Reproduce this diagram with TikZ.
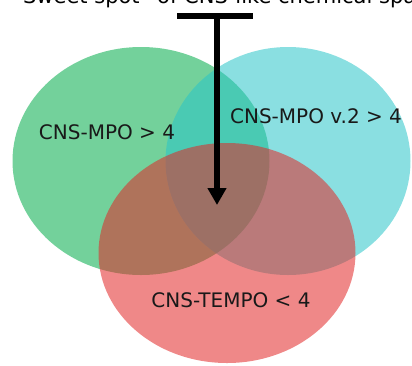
\documentclass[tikz,border=0pt]{standalone}
\usepackage{fontspec}
\setmainfont{DejaVu Sans}
\usetikzlibrary{shapes.geometric,arrows.meta}

\definecolor{mpogreen}{RGB}{0,171,73}
\definecolor{mpocyan}{RGB}{42,197,200}
\definecolor{tempored}{RGB}{226,39,39}

\begin{document}
\begin{tikzpicture}[
    x=1pt,
    y=-1pt,
    font=\fontsize{20}{24}\selectfont,
    venn/.style={ellipse, fill opacity=0.55, inner sep=0pt},
    vlabel/.style={inner sep=0pt, text=black!90}
  ]
    \useasboundingbox (0,0) rectangle (412,365);

    % Titulo (cortado por arriba)
    \node[anchor=base west, inner sep=0pt, font=\fontsize{21}{25}\selectfont]
      (title) at (12,3.5) {``Sweet spot'' of CNS-like chemical space};

    % --- Conjuntos (verde, cian, rojo) ---
    \node[venn, fill=mpogreen, minimum width=257, minimum height=228]
      (mpo) at (141,161) {};
    \node[venn, fill=mpocyan, minimum width=245, minimum height=228]
      (mpotwo) at (288,161) {};
    \node[venn, fill=tempored, minimum width=257, minimum height=220]
      (tempo) at (227,253) {};

    \node[vlabel] (mpolabel) at (107,132) {CNS-MPO > 4};
    \node[vlabel] (mpotwolabel) at (316,116) {CNS-MPO v.2 > 4};
    \node[vlabel] (tempolabel) at (231,300) {CNS-TEMPO < 4};

    % Flecha hacia la zona comun
    \node[fill=black, inner sep=0pt, minimum width=76, minimum height=6]
      (bar) at (215,16) {};
    \coordinate (sweet) at (217,205);
    \draw[line width=5.5, -{Triangle[width=18pt,length=17pt]}]
      (bar.south -| sweet) -- (sweet);
  \end{tikzpicture}
\end{document}
